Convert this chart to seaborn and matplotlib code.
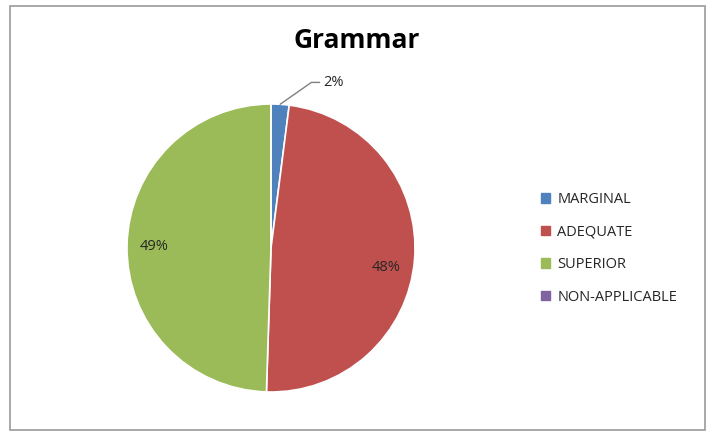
import numpy as np
import matplotlib
matplotlib.use("Agg")
import matplotlib.pyplot as plt
from matplotlib.patches import Rectangle
import seaborn as sns

categories = ["MARGINAL", "ADEQUATE", "SUPERIOR", "NON-APPLICABLE"]
percent = [2, 48, 49, 0]
colors = ["#4F81BD", "#C0504D", "#9BBB59", "#8064A2"]
title = "Grammar"

sns.set_theme(style="white")
plt.rcParams["font.family"] = ["Open Sans", "DejaVu Sans"]

fig = plt.figure(figsize=(7.12, 4.34), dpi=100)
fig.patch.set_facecolor("white")

# outer chart frame
fig.add_artist(Rectangle((10 / 712, 4 / 434), 695 / 712, 424 / 434,
                         transform=fig.transFigure, fill=False,
                         edgecolor="#9a9a9a", linewidth=1.2))

cx, cy, r = 271, 434 - 248, 144
ax = fig.add_axes([(cx - r) / 712, (cy - r) / 434, 2 * r / 712, 2 * r / 434])

vals = np.array(percent, dtype=float)
wedges, _ = ax.pie(vals, colors=colors, startangle=90, counterclock=False,
                   wedgeprops=dict(edgecolor="white", linewidth=1.2))
ax.set_xlim(-1, 1)
ax.set_ylim(-1, 1)
ax.set_aspect("equal")
ax.axis("off")

# inside labels for the large slices
for w, p in zip(wedges, percent):
    if p < 5:
        continue
    mid = np.deg2rad((w.theta1 + w.theta2) / 2)
    if p == 48:
        mid -= np.deg2rad(5)
    ax.text(0.81 * np.cos(mid), 0.81 * np.sin(mid), f"{p}%",
            ha="center", va="center", fontsize=10.5, color="#262626")

# small slice label with a leader line
w = wedges[0]
mid = np.deg2rad((w.theta1 + w.theta2) / 2)
x0, y0 = np.cos(mid), np.sin(mid)
ax.annotate(f"{percent[0]}%", xy=(x0, y0), xytext=(0.36, 1.15),
            ha="left", va="center", fontsize=10.5, color="#262626",
            annotation_clip=False,
            arrowprops=dict(arrowstyle="-", color="#7f7f7f", lw=1,
                            shrinkA=0, shrinkB=0,
                            connectionstyle="angle,angleA=0,angleB=35,rad=0"))

fig.text(357 / 712, 1 - 41 / 434, title, ha="center", va="center",
         fontsize=19, fontweight="bold", color="black")

# legend
handles = [Rectangle((0, 0), 1, 1, color=c) for c in colors]
fig.legend(handles, categories, loc="upper left",
           bbox_to_anchor=(528 / 712, 1 - 179 / 434), frameon=False,
           fontsize=10.5, handlelength=0.6, handleheight=0.6,
           handletextpad=0.5, labelspacing=1.2, labelcolor="#262626")

fig.savefig("out.png", dpi=100, facecolor="white")
